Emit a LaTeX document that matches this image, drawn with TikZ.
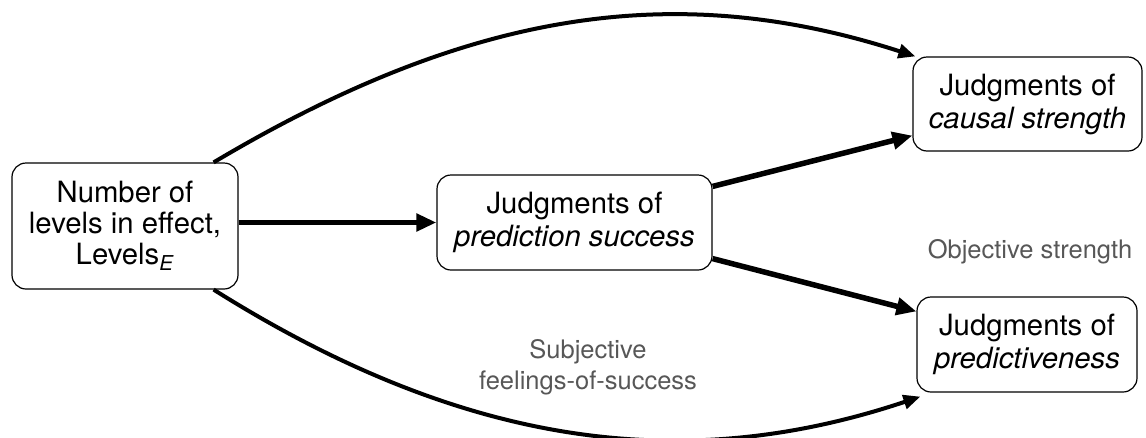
\documentclass[tikz,border=0pt]{standalone}
\usepackage{fontspec}
\setmainfont{TeX Gyre Heros}
\usetikzlibrary{arrows.meta}
\tikzset{
  box/.style={draw, line width=1.2pt, rounded corners=14pt, align=center, inner sep=0pt, font=\fontsize{29.3}{33}\selectfont},
  note/.style={align=center, text=black!66, font=\fontsize{25.5}{31}\selectfont},
  link/.style={line width=5.5pt, -{Triangle[length=20pt,width=17pt]}},
  curve/.style={line width=4pt, -{Triangle[length=17pt,width=14pt]}}
}
\begin{document}
\begin{tikzpicture}[x=1pt,y=-1pt]
\useasboundingbox (0,0) rectangle (1146,437);
\node[box, minimum width=226pt, minimum height=126pt, font=\fontsize{29.3}{31}\selectfont] (levels) at (125,226) {Number of\\levels in effect,\\Levels\textsubscript{\textit{E}}};
\node[box, minimum width=275pt, minimum height=95pt] (success) at (574.5,222.5) {Judgments of\\\textit{prediction success}};
\node[box, minimum width=229pt, minimum height=94pt] (causal) at (1027.5,104) {Judgments of\\\textit{causal strength}};
\node[box, minimum width=220pt, minimum height=95pt] (predict) at (1027,344.5) {Judgments of\\\textit{predictiveness}};
\node[note] (objective) at (1030,252) {Objective strength};
\node[note] (subjective) at (588,367) {Subjective\\feelings-of-success};
\draw[link] (levels.east |- success.west) -- (success.west);
\draw[link] ([yshift=-12pt]success.north east) -- ([yshift=16pt]causal.south west);
\draw[link] ([yshift=12pt]success.south east) -- ([yshift=-15pt]predict.north west);
\draw[curve] ([xshift=-25pt]levels.north east) .. controls (473,8) and (679,-20) .. ([xshift=3pt]causal.north west);
\draw[curve] ([xshift=-25pt]levels.south east) .. controls (467,449) and (686,475) .. ([xshift=4pt,yshift=-4pt]predict.south west);
\end{tikzpicture}
\end{document}
